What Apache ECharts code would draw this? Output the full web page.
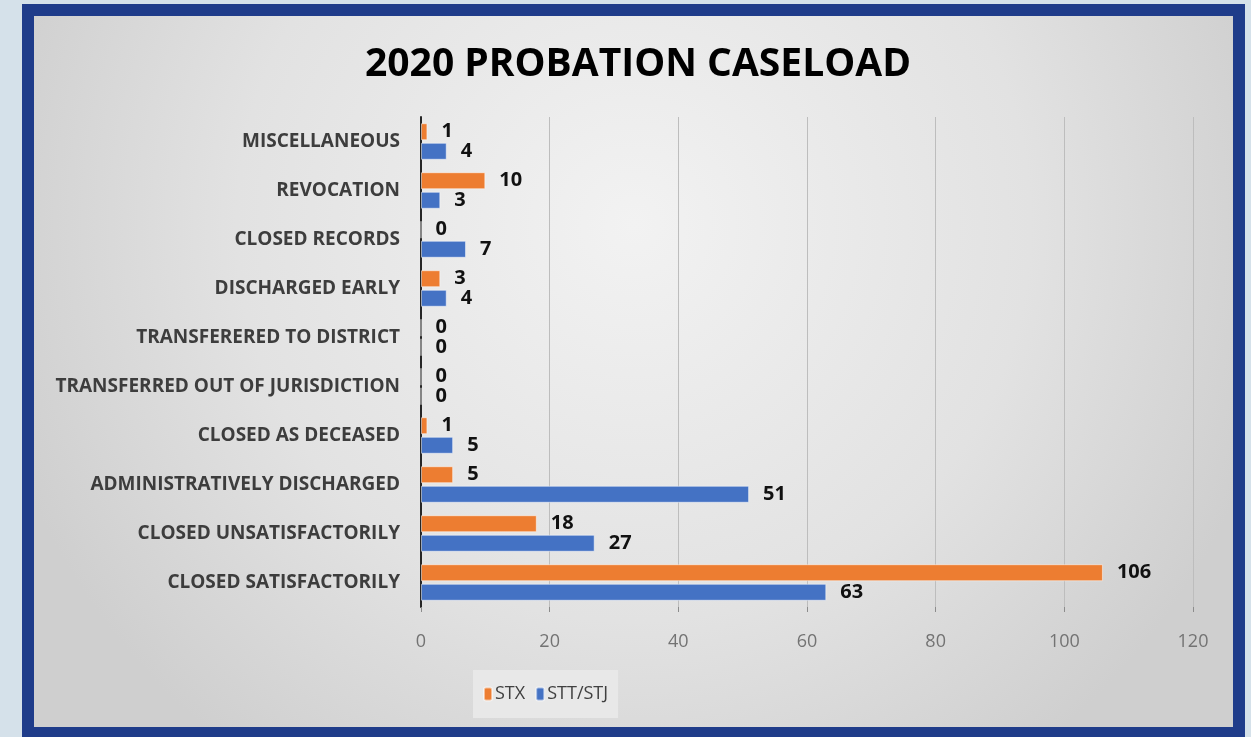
<!DOCTYPE html>
<html>
<head>
<meta charset="utf-8">
<script src="https://cdn.jsdelivr.net/npm/echarts@6/dist/echarts.min.js"></script>
<style>
html,body{margin:0;padding:0;background:#d5e1ea;}
#c{width:1251px;height:737px;}
</style>
</head>
<body>
<div id="c"></div>
<script>
const titleText = '2020 PROBATION CASELOAD';
const categories = [
  'MISCELLANEOUS',
  'REVOCATION',
  'CLOSED RECORDS',
  'DISCHARGED EARLY',
  'TRANSFERERED TO DISTRICT',
  'TRANSFERRED OUT OF JURISDICTION',
  'CLOSED AS DECEASED',
  'ADMINISTRATIVELY DISCHARGED',
  'CLOSED UNSATISFACTORILY',
  'CLOSED SATISFACTORILY'
];
const stxValues = [1, 10, 0, 3, 0, 0, 1, 5, 18, 106];
const sttValues = [4, 3, 7, 4, 0, 0, 5, 51, 27, 63];
const seriesNames = ['STX', 'STT/STJ'];
const xTicks = [0, 20, 40, 60, 80, 100, 120];

const chart = echarts.init(document.getElementById('c'));
const font = '"Open Sans", sans-serif';
const labelStyle = {
  show: true, position: 'right', distance: 14,
  fontFamily: font, fontWeight: 'bold', fontSize: 20, color: '#111'
};
chart.setOption({
  backgroundColor: '#d5e1ea',
  animation: false,
  graphic: [{
    type: 'rect', z: -10, silent: true,
    shape: {x: 28, y: 10, width: 1211, height: 723},
    style: {
      fill: new echarts.graphic.RadialGradient(0.5, 0.3, 0.9, [
        {offset: 0, color: '#f2f2f2'},
        {offset: 0.6, color: '#e2e2e2'},
        {offset: 1, color: '#cfcfcf'}
      ]),
      stroke: '#1f3c8a', lineWidth: 12
    }
  }],
  title: {
    text: titleText, left: 360, top: 40,
    textStyle: {fontFamily: font, fontWeight: 'bold', fontSize: 39, color: '#000'}
  },
  legend: {
    data: seriesNames, left: 473, top: 670,
    padding: [15, 10, 15, 10], itemGap: 10,
    itemWidth: 8, itemHeight: 13,
    backgroundColor: '#e8e8e8',
    textStyle: {fontFamily: font, fontSize: 18, color: '#404040', padding: [0, 0, 0, -2]}
  },
  grid: {left: 421, right: 58, top: 117, bottom: 130, containLabel: false},
  xAxis: {
    type: 'value', min: 0, max: 120, interval: 20,
    axisLine: {show: false},
    axisTick: {show: true, length: 5, lineStyle: {color: '#8c8c8c'}},
    splitLine: {lineStyle: {color: '#bdbdbd', width: 1}},
    axisLabel: {fontFamily: font, fontSize: 18, color: '#737373', margin: 26,
      formatter: v => String(xTicks[xTicks.indexOf(v)])}
  },
  yAxis: {
    type: 'category', data: categories, inverse: true,
    axisLine: {show: true, lineStyle: {color: '#262626', width: 2}},
    axisTick: {show: false},
    axisLabel: {fontFamily: font, fontWeight: 'bold', fontSize: 19, color: '#3d3d3d', margin: 21}
  },
  series: [
    {name: seriesNames[0], type: 'bar', data: stxValues, barWidth: 17, barGap: '15%',
      itemStyle: {color: '#ED7D31', borderColor: 'rgba(255,255,255,0.5)', borderWidth: 1},
      label: labelStyle},
    {name: seriesNames[1], type: 'bar', data: sttValues, barWidth: 17,
      itemStyle: {color: '#4472C4', borderColor: 'rgba(255,255,255,0.5)', borderWidth: 1},
      label: labelStyle}
  ]
});
</script>
</body>
</html>
